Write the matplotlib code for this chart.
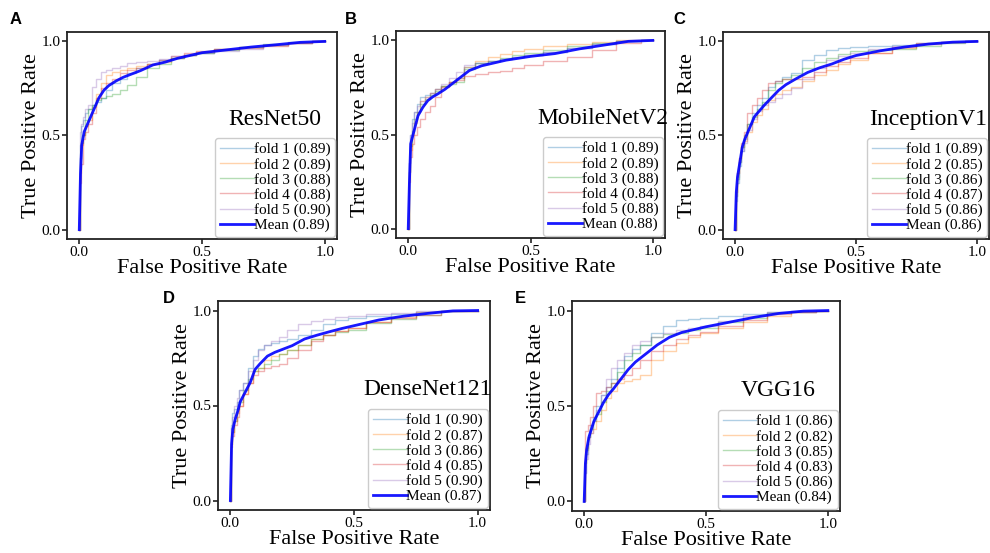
import matplotlib
matplotlib.use("Agg")
import matplotlib.pyplot as plt

# ---------------- data ----------------
FPR_GRID = [0.0, 0.005, 0.01, 0.02, 0.03, 0.04, 0.06, 0.08, 0.10, 0.12, 0.15, 0.18,
            0.21, 0.25, 0.30, 0.35, 0.40, 0.45, 0.50, 0.60, 0.70, 0.80, 0.90, 1.0]

MODELS = ["ResNet50", "MobileNetV2", "InceptionV1", "DenseNet121", "VGG16"]
PANEL_LETTERS = ["A", "B", "C", "D", "E"]

resnet_folds = [
    [0, 0.45, 0.55, 0.58, 0.62, 0.64, 0.66, 0.68, 0.70, 0.74, 0.78, 0.80, 0.83, 0.86, 0.88, 0.90, 0.91, 0.93, 0.94, 0.96, 0.97, 0.98, 0.99, 1.0],
    [0, 0.30, 0.45, 0.50, 0.55, 0.58, 0.65, 0.72, 0.78, 0.82, 0.84, 0.85, 0.86, 0.87, 0.88, 0.89, 0.91, 0.93, 0.945, 0.96, 0.97, 0.98, 0.99, 1.0],
    [0, 0.38, 0.46, 0.50, 0.58, 0.64, 0.66, 0.69, 0.70, 0.71, 0.72, 0.74, 0.77, 0.81, 0.86, 0.88, 0.91, 0.93, 0.94, 0.955, 0.97, 0.985, 0.995, 1.0],
    [0, 0.25, 0.35, 0.48, 0.52, 0.56, 0.62, 0.70, 0.75, 0.78, 0.80, 0.83, 0.85, 0.86, 0.88, 0.90, 0.92, 0.94, 0.95, 0.96, 0.965, 0.975, 0.99, 1.0],
    [0, 0.52, 0.56, 0.60, 0.64, 0.66, 0.76, 0.80, 0.84, 0.85, 0.86, 0.87, 0.885, 0.89, 0.895, 0.905, 0.92, 0.93, 0.94, 0.95, 0.96, 0.98, 0.99, 1.0],
]
resnet_mean = [0, 0.30, 0.45, 0.52, 0.55, 0.58, 0.64, 0.70, 0.74, 0.765, 0.79, 0.81, 0.825, 0.845, 0.875, 0.89, 0.91, 0.925, 0.94, 0.955, 0.97, 0.982, 0.995, 1.0]
resnet_auc = [0.89, 0.89, 0.88, 0.88, 0.90]
resnet_mean_auc = 0.89

mobilenet_folds = [
    [0, 0.35, 0.50, 0.58, 0.62, 0.66, 0.70, 0.71, 0.72, 0.74, 0.76, 0.78, 0.80, 0.86, 0.88, 0.89, 0.90, 0.91, 0.92, 0.94, 0.96, 0.98, 0.995, 1.0],
    [0, 0.30, 0.42, 0.50, 0.56, 0.62, 0.68, 0.70, 0.72, 0.74, 0.76, 0.78, 0.80, 0.86, 0.89, 0.91, 0.93, 0.945, 0.955, 0.97, 0.98, 0.99, 1.0, 1.0],
    [0, 0.30, 0.44, 0.52, 0.58, 0.62, 0.66, 0.69, 0.71, 0.73, 0.76, 0.77, 0.78, 0.85, 0.88, 0.89, 0.905, 0.92, 0.935, 0.95, 0.97, 0.985, 0.995, 1.0],
    [0, 0.25, 0.38, 0.45, 0.50, 0.54, 0.58, 0.62, 0.65, 0.70, 0.75, 0.78, 0.79, 0.81, 0.82, 0.83, 0.84, 0.855, 0.87, 0.89, 0.91, 0.95, 0.985, 1.0],
    [0, 0.35, 0.50, 0.56, 0.62, 0.65, 0.68, 0.70, 0.72, 0.74, 0.77, 0.80, 0.83, 0.87, 0.88, 0.89, 0.90, 0.91, 0.92, 0.94, 0.96, 0.98, 0.995, 1.0],
]
mobilenet_mean = [0, 0.25, 0.45, 0.50, 0.55, 0.60, 0.645, 0.68, 0.70, 0.715, 0.74, 0.77, 0.80, 0.84, 0.865, 0.88, 0.895, 0.905, 0.915, 0.93, 0.955, 0.975, 0.995, 1.0]
mobilenet_auc = [0.89, 0.89, 0.88, 0.84, 0.88]
mobilenet_mean_auc = 0.88

inception_folds = [
    [0, 0.15, 0.25, 0.34, 0.42, 0.48, 0.56, 0.62, 0.66, 0.70, 0.76, 0.79, 0.81, 0.83, 0.90, 0.93, 0.955, 0.965, 0.97, 0.975, 0.98, 0.99, 0.995, 1.0],
    [0, 0.20, 0.30, 0.38, 0.44, 0.47, 0.52, 0.57, 0.61, 0.64, 0.69, 0.72, 0.74, 0.76, 0.79, 0.82, 0.85, 0.88, 0.90, 0.94, 0.965, 0.985, 0.995, 1.0],
    [0, 0.18, 0.27, 0.36, 0.44, 0.50, 0.56, 0.60, 0.64, 0.68, 0.74, 0.78, 0.80, 0.82, 0.86, 0.89, 0.91, 0.935, 0.95, 0.955, 0.96, 0.975, 0.99, 1.0],
    [0, 0.20, 0.30, 0.38, 0.46, 0.52, 0.62, 0.66, 0.70, 0.74, 0.78, 0.79, 0.80, 0.80, 0.81, 0.84, 0.87, 0.89, 0.91, 0.94, 0.97, 0.99, 0.995, 1.0],
    [0, 0.18, 0.28, 0.36, 0.42, 0.46, 0.53, 0.59, 0.63, 0.66, 0.68, 0.70, 0.72, 0.75, 0.80, 0.86, 0.90, 0.92, 0.94, 0.96, 0.975, 0.985, 0.995, 1.0],
]
inception_mean = [0, 0.20, 0.28, 0.36, 0.44, 0.48, 0.54, 0.60, 0.63, 0.66, 0.70, 0.74, 0.77, 0.80, 0.835, 0.86, 0.88, 0.905, 0.925, 0.95, 0.97, 0.986, 0.996, 1.0]
inception_auc = [0.89, 0.85, 0.86, 0.87, 0.86]
inception_mean_auc = 0.86

densenet_folds = [
    [0, 0.40, 0.46, 0.48, 0.52, 0.58, 0.62, 0.70, 0.76, 0.80, 0.82, 0.83, 0.84, 0.85, 0.87, 0.90, 0.93, 0.95, 0.96, 0.97, 0.98, 0.99, 1.0, 1.0],
    [0, 0.30, 0.36, 0.42, 0.46, 0.50, 0.56, 0.62, 0.68, 0.70, 0.74, 0.76, 0.77, 0.79, 0.82, 0.85, 0.87, 0.89, 0.91, 0.94, 0.965, 0.99, 1.0, 1.0],
    [0, 0.30, 0.36, 0.42, 0.48, 0.52, 0.58, 0.64, 0.68, 0.70, 0.72, 0.74, 0.77, 0.79, 0.82, 0.85, 0.87, 0.885, 0.90, 0.935, 0.955, 0.975, 0.995, 1.0],
    [0, 0.28, 0.34, 0.40, 0.44, 0.50, 0.56, 0.62, 0.66, 0.68, 0.70, 0.71, 0.72, 0.75, 0.79, 0.84, 0.87, 0.89, 0.91, 0.94, 0.96, 0.975, 0.995, 1.0],
    [0, 0.38, 0.44, 0.50, 0.54, 0.58, 0.62, 0.68, 0.74, 0.79, 0.82, 0.84, 0.86, 0.90, 0.93, 0.945, 0.955, 0.965, 0.97, 0.98, 0.985, 0.995, 1.0, 1.0],
]
densenet_mean = [0, 0.30, 0.375, 0.43, 0.47, 0.52, 0.57, 0.62, 0.69, 0.72, 0.76, 0.78, 0.795, 0.815, 0.85, 0.87, 0.888, 0.905, 0.92, 0.95, 0.97, 0.985, 0.998, 1.0]
densenet_auc = [0.90, 0.87, 0.86, 0.85, 0.90]
densenet_mean_auc = 0.87

vgg_folds = [
    [0, 0.15, 0.25, 0.34, 0.40, 0.44, 0.50, 0.56, 0.60, 0.64, 0.70, 0.76, 0.80, 0.82, 0.88, 0.92, 0.95, 0.955, 0.96, 0.97, 0.98, 0.99, 1.0, 1.0],
    [0, 0.20, 0.28, 0.34, 0.36, 0.38, 0.42, 0.48, 0.54, 0.58, 0.62, 0.63, 0.64, 0.66, 0.74, 0.79, 0.83, 0.86, 0.88, 0.91, 0.94, 0.97, 0.99, 1.0],
    [0, 0.20, 0.27, 0.34, 0.38, 0.42, 0.46, 0.52, 0.58, 0.62, 0.68, 0.74, 0.78, 0.82, 0.86, 0.875, 0.885, 0.90, 0.91, 0.94, 0.96, 0.985, 0.995, 1.0],
    [0, 0.37, 0.37, 0.40, 0.44, 0.50, 0.57, 0.58, 0.60, 0.62, 0.64, 0.66, 0.70, 0.74, 0.79, 0.82, 0.85, 0.87, 0.89, 0.92, 0.95, 0.98, 0.995, 1.0],
    [0, 0.15, 0.22, 0.30, 0.36, 0.42, 0.48, 0.56, 0.64, 0.70, 0.74, 0.78, 0.82, 0.84, 0.86, 0.88, 0.90, 0.91, 0.92, 0.945, 0.97, 0.99, 0.995, 1.0],
]
vgg_mean = [0, 0.20, 0.27, 0.34, 0.38, 0.42, 0.47, 0.52, 0.56, 0.59, 0.64, 0.69, 0.73, 0.77, 0.82, 0.86, 0.885, 0.90, 0.915, 0.94, 0.965, 0.985, 0.997, 1.0]
vgg_auc = [0.86, 0.82, 0.85, 0.83, 0.86]
vgg_mean_auc = 0.84

ALL_FOLDS = [resnet_folds, mobilenet_folds, inception_folds, densenet_folds, vgg_folds]
ALL_MEANS = [resnet_mean, mobilenet_mean, inception_mean, densenet_mean, vgg_mean]
ALL_AUCS = [resnet_auc, mobilenet_auc, inception_auc, densenet_auc, vgg_auc]
ALL_MEAN_AUCS = [resnet_mean_auc, mobilenet_mean_auc, inception_mean_auc, densenet_mean_auc, vgg_mean_auc]

# ---------------- layout ----------------
W, H = 990, 553
# axes boxes in pixels: left, top, right, bottom
BOXES = [(67, 32, 337, 239), (396, 31, 665, 238), (723, 32, 989, 239),
         (218, 301, 490, 510), (572, 301, 840, 511)]
LETTER_POS = [(10, 12), (345, 12), (673, 12), (163, 291), (515, 291)]

FOLD_COLORS = ["#1f77b4", "#ff7f0e", "#2ca02c", "#d62728", "#9467bd"]
SERIF = ["Liberation Serif", "DejaVu Serif"]

fig = plt.figure(figsize=(W / 100, H / 100), dpi=100)

for i in range(5):
    l, t, r, b = BOXES[i]
    ax = fig.add_axes([l / W, 1 - b / H, (r - l) / W, (b - t) / H])
    for k in range(5):
        ax.plot(FPR_GRID, ALL_FOLDS[i][k], color=FOLD_COLORS[k], lw=1, alpha=0.35,
                drawstyle="steps-mid", label=f"fold {k + 1} ({ALL_AUCS[i][k]:.2f})")
    ax.plot(FPR_GRID, ALL_MEANS[i], color="#0000ff", lw=2, alpha=0.9,
            label=f"Mean ({ALL_MEAN_AUCS[i]:.2f})")
    ax.set_xlim(-0.05, 1.05)
    ax.set_ylim(-0.05, 1.05)
    ax.set_xticks([0, 0.5, 1.0])
    ax.set_yticks([0, 0.5, 1.0])
    ax.set_xticklabels(["0.0", "0.5", "1.0"], family=SERIF, fontsize=11)
    ax.set_yticklabels(["0.0", "0.5", "1.0"], family=SERIF, fontsize=11)
    ax.tick_params(direction="out", length=3.8, width=1.2, color="#222222", pad=1,
                   top=False, right=False)
    for s in ax.spines.values():
        s.set_color("#222222")
        s.set_linewidth(1.3)
    ax.set_xlabel("False Positive Rate", family=SERIF, fontsize=16, labelpad=0)
    ax.set_ylabel("True Positive Rate", family=SERIF, fontsize=16, labelpad=0)
    ax.text(0.77, 0.55, MODELS[i], transform=ax.transAxes, ha="center",
            va="baseline", family=SERIF, fontsize=17)
    leg = ax.legend(loc="lower right", prop={"family": SERIF, "size": 11},
                    labelspacing=0.08, handlelength=2.2, handletextpad=0.0,
                    borderpad=0.3, borderaxespad=0.15, fancybox=True,
                    framealpha=1.0, edgecolor="#cccccc")
    fig.text(LETTER_POS[i][0] / W, 1 - LETTER_POS[i][1] / H, PANEL_LETTERS[i],
             ha="left", va="top", fontsize=12, fontweight="bold",
             family=["Liberation Sans", "DejaVu Sans"])

fig.savefig("out.png", dpi=100)
